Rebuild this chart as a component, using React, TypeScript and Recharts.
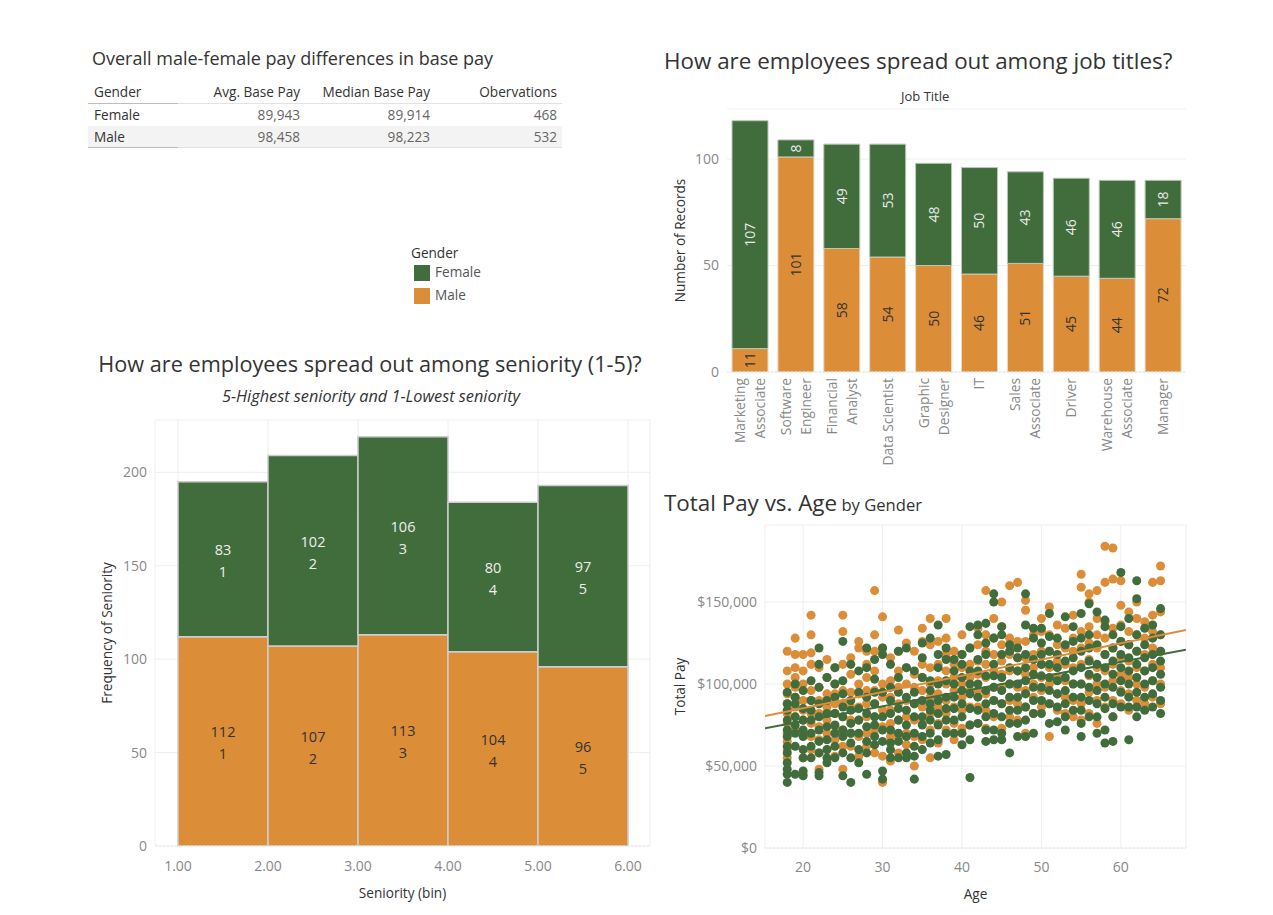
import React from "react"
import { Bar, BarChart, CartesianGrid, LabelList, Scatter, ScatterChart, XAxis, YAxis, ZAxis } from "recharts"

const GREEN = "#416c3c"
const ORANGE = "#dc8d38"
const FONT = "'Open Sans', sans-serif"

// table
const genders = ["Female", "Male"]
const avgBasePay = [89943, 98458]
const medianBasePay = [89914, 98223]
const observations = [468, 532]

// job titles
const jobTitles = ["Marketing\nAssociate", "Software\nEngineer", "Financial\nAnalyst", "Data Scientist", "Graphic\nDesigner", "IT", "Sales\nAssociate", "Driver", "Warehouse\nAssociate", "Manager"]
const jobMale = [11, 101, 58, 54, 50, 46, 51, 45, 44, 72]
const jobFemale = [107, 8, 49, 53, 48, 50, 43, 46, 46, 18]

// seniority
const seniorityBins = [1, 2, 3, 4, 5]
const seniorityMale = [112, 107, 113, 104, 96]
const seniorityFemale = [83, 102, 106, 80, 97]

// total pay ($k) by age
const femalePay: [number, number[]][] = [
  [18, [40, 45, 48, 52, 58, 62, 68, 72, 78, 84, 88, 95]],
  [19, [45, 62, 70, 75, 80, 88, 92, 100]],
  [20, [44, 47, 55, 60, 68, 72, 78, 85, 96]],
  [21, [55, 62, 70, 78, 84, 90, 102]],
  [22, [44, 46, 58, 65, 72, 80, 88, 98, 112, 122]],
  [23, [52, 55, 60, 66, 74, 82, 90, 104]],
  [24, [55, 62, 70, 75, 82, 92, 100, 110]],
  [25, [44, 58, 68, 72, 80, 86, 94, 102, 126]],
  [26, [40, 55, 64, 70, 76, 84, 90, 112]],
  [27, [52, 60, 70, 78, 85, 95, 108]],
  [28, [45, 58, 65, 74, 82, 92, 110, 122]],
  [29, [63, 68, 75, 80, 88, 95, 103, 115]],
  [30, [42, 47, 65, 72, 80, 95, 118, 122]],
  [31, [55, 60, 64, 72, 82, 90, 98, 112]],
  [32, [55, 65, 70, 78, 85, 95, 104, 120]],
  [33, [55, 58, 68, 75, 84, 92, 110, 122]],
  [34, [42, 56, 62, 70, 80, 88, 95, 108]],
  [35, [60, 68, 75, 80, 90, 104, 116, 125]],
  [36, [64, 70, 78, 84, 88, 96, 102, 128]],
  [37, [56, 66, 75, 82, 90, 100, 110, 118, 136]],
  [38, [57, 70, 78, 85, 92, 102, 115, 122]],
  [39, [70, 78, 85, 92, 100, 108, 115]],
  [40, [63, 70, 80, 88, 96, 104, 112, 118]],
  [41, [43, 66, 75, 85, 94, 100, 108, 122, 135]],
  [42, [76, 84, 92, 100, 108, 115, 130, 136]],
  [43, [65, 72, 80, 88, 96, 105, 118, 125, 137]],
  [44, [66, 72, 82, 90, 98, 105, 112, 128, 150, 155]],
  [45, [66, 70, 80, 88, 96, 104, 118, 130, 135]],
  [46, [58, 76, 84, 92, 100, 110, 120, 124]],
  [47, [68, 76, 84, 92, 100, 108, 116, 122]],
  [48, [68, 78, 86, 94, 102, 110, 118, 136, 155]],
  [49, [70, 82, 90, 98, 106, 115, 128, 134]],
  [50, [82, 90, 98, 105, 112, 118, 125, 134]],
  [51, [76, 88, 96, 104, 112, 120, 129, 143]],
  [52, [77, 86, 94, 102, 110, 118, 128]],
  [53, [72, 80, 88, 96, 104, 114, 124, 141]],
  [54, [84, 92, 100, 108, 116, 126, 135]],
  [55, [68, 76, 84, 92, 100, 110, 120, 128, 143]],
  [56, [80, 90, 98, 106, 114, 122, 130, 149]],
  [57, [70, 80, 88, 96, 104, 112, 124, 144]],
  [58, [64, 72, 85, 92, 100, 110, 118, 135, 139]],
  [59, [65, 80, 88, 98, 106, 114, 122, 130]],
  [60, [86, 95, 102, 110, 118, 126, 135, 168]],
  [61, [66, 86, 92, 100, 108, 116, 124, 140]],
  [62, [80, 86, 95, 104, 112, 120, 130, 152, 163]],
  [63, [84, 92, 100, 108, 116, 124, 134]],
  [64, [86, 94, 102, 110, 118, 128, 136]],
  [65, [82, 90, 98, 106, 114, 120, 130, 146]],
]

const malePay: [number, number[]][] = [
  [18, [55, 60, 65, 70, 76, 82, 88, 94, 100, 108, 120]],
  [19, [72, 80, 86, 92, 98, 104, 110, 118, 128]],
  [20, [45, 55, 70, 78, 84, 90, 100, 108, 118]],
  [21, [60, 68, 76, 82, 90, 96, 112, 119, 130, 142]],
  [22, [48, 58, 66, 74, 82, 90, 98, 110]],
  [23, [60, 70, 78, 86, 94, 104, 115]],
  [24, [56, 66, 74, 82, 88, 94, 100, 110]],
  [25, [48, 62, 72, 80, 88, 96, 112, 132, 142]],
  [26, [62, 70, 78, 86, 95, 106, 116]],
  [27, [56, 68, 78, 86, 94, 100, 122, 126]],
  [28, [62, 70, 80, 88, 96, 104, 112, 120]],
  [29, [58, 72, 80, 88, 96, 108, 120, 130, 157]],
  [30, [40, 56, 74, 84, 92, 100, 122, 141]],
  [31, [53, 68, 76, 84, 92, 102, 116]],
  [32, [58, 68, 78, 88, 98, 108, 120, 133]],
  [33, [63, 70, 80, 90, 100, 110, 125]],
  [34, [50, 68, 78, 88, 98, 106, 120]],
  [35, [66, 76, 86, 96, 104, 112, 126, 134]],
  [36, [55, 72, 82, 92, 100, 110, 124, 140]],
  [37, [64, 76, 86, 94, 102, 112, 126]],
  [38, [72, 82, 90, 100, 108, 118, 128, 140]],
  [39, [66, 76, 86, 96, 104, 112, 120]],
  [40, [73, 84, 92, 100, 110, 118, 130]],
  [41, [75, 86, 96, 104, 112, 122]],
  [42, [76, 86, 96, 106, 114, 124, 134]],
  [43, [73, 84, 94, 104, 112, 120, 130, 157]],
  [44, [80, 90, 98, 108, 118, 128, 140]],
  [45, [73, 88, 98, 106, 114, 124, 135, 150]],
  [46, [80, 90, 100, 108, 118, 128, 160]],
  [47, [78, 88, 98, 108, 116, 126, 162]],
  [48, [70, 86, 96, 106, 116, 126, 145, 151]],
  [49, [82, 92, 100, 110, 118, 130]],
  [50, [86, 96, 104, 112, 120, 132, 140]],
  [51, [68, 88, 100, 110, 120, 130, 147]],
  [52, [84, 94, 104, 114, 124, 136]],
  [53, [82, 92, 102, 112, 122, 134]],
  [54, [80, 90, 100, 110, 120, 128, 142]],
  [55, [78, 88, 100, 112, 122, 132, 159, 167]],
  [56, [82, 95, 105, 115, 125, 135, 150, 155]],
  [57, [76, 90, 100, 110, 122, 130, 140, 157]],
  [58, [86, 98, 108, 118, 128, 138, 162, 184]],
  [59, [80, 90, 102, 112, 122, 134, 164, 183]],
  [60, [88, 96, 106, 116, 126, 136, 148, 163]],
  [61, [84, 94, 104, 114, 124, 132, 144]],
  [62, [90, 100, 110, 120, 130, 140, 150]],
  [63, [88, 98, 108, 118, 128, 138]],
  [64, [92, 102, 112, 122, 132, 142, 162]],
  [65, [88, 100, 110, 120, 130, 144, 163, 172]],
]

// trend line end points (age, $)
const maleTrend = [{ age: 15.2, pay: 80500 }, { age: 68.2, pay: 133000 }]
const femaleTrend = [{ age: 15.2, pay: 73000 }, { age: 68.2, pay: 121000 }]

const toPoints = (rows: [number, number[]][]) => rows.flatMap(([age, pays]) => pays.map((p) => ({ age, pay: p * 1000 })))
const fmtMoney = (v: number) => "$" + v.toLocaleString("en-US")

function Txt({ left, top, size, children, style }: { left: number; top: number; size: number; children: React.ReactNode; style?: React.CSSProperties }) {
  return <div style={{ position: "absolute", left, top, fontSize: size, lineHeight: 1.2, whiteSpace: "nowrap", ...style }}>{children}</div>
}

function PayTable() {
  const cell = (right: number): React.CSSProperties => ({ position: "absolute", right, top: 0, color: "#666" })
  const row = (top: number, h: number, bg?: string): React.CSSProperties => ({ position: "absolute", left: 88, top, width: 474, height: h, lineHeight: h + "px", fontSize: 13.6, background: bg })
  const rule = (top: number) => (
    <>
      <div style={{ position: "absolute", left: 88, top, width: 474, height: 1, background: "#e2e2e2" }} />
      <div style={{ position: "absolute", left: 88, top, width: 90, height: 1, background: "#bdbdbd" }} />
    </>
  )
  return (
    <>
      <Txt left={92} top={48} size={18}>Overall male-female pay differences in base pay</Txt>
      <div style={row(81, 22)}>
        <span style={{ position: "absolute", left: 6 }}>Gender</span>
        <span style={{ position: "absolute", right: 262 }}>Avg. Base Pay</span>
        <span style={{ position: "absolute", right: 132 }}>Median Base Pay</span>
        <span style={{ position: "absolute", right: 5 }}>Obervations</span>
      </div>
      {genders.map((g, i) => (
        <div key={g} style={row(104 + i * 22, 21, i === 1 ? "#f3f3f3" : undefined)}>
          <span style={{ position: "absolute", left: 6 }}>{g}</span>
          <span style={cell(262)}>{avgBasePay[i].toLocaleString("en-US")}</span>
          <span style={cell(132)}>{medianBasePay[i].toLocaleString("en-US")}</span>
          <span style={cell(5)}>{observations[i]}</span>
        </div>
      ))}
      {rule(103)}
      {rule(147)}
    </>
  )
}

function GenderLegend() {
  return (
    <>
      <Txt left={411} top={245} size={13.6}>Gender</Txt>
      {genders.map((g, i) => (
        <React.Fragment key={g}>
          <div style={{ position: "absolute", left: 414, top: 265 + i * 23, width: 16, height: 16, background: i === 0 ? GREEN : ORANGE }} />
          <Txt left={435} top={264 + i * 23} size={13.6} style={{ color: "#555" }}>{g}</Txt>
        </React.Fragment>
      ))}
    </>
  )
}

function JobTick({ x, y, payload }: any) {
  const lines = String(payload.value).split("\n")
  return (
    <g transform={`translate(${x},${y})`}>
      <text transform="rotate(-90)" textAnchor="end" fill="#888" fontSize={13.8} fontFamily={FONT}>
        {lines.map((l, i) => <tspan key={i} x={2} y={(i - (lines.length - 1) / 2) * 20 + 5}>{l}</tspan>)}
      </text>
    </g>
  )
}

function JobChart() {
  const data = jobTitles.map((t, i) => ({ title: t, male: jobMale[i], female: jobFemale[i] }))
  return (
    <>
      <Txt left={664} top={48} size={22.4}>How are employees spread out among job titles?</Txt>
      <Txt left={901} top={89} size={13}>Job Title</Txt>
      <div style={{ position: "absolute", left: 660, top: 100 }}>
        <BarChart width={540} height={380} data={data} margin={{ top: 9, right: 14, bottom: 0, left: 0 }}>
          <CartesianGrid vertical={false} stroke="#efefef" />
          <XAxis dataKey="title" height={108} interval={0} tickLine={false} axisLine={{ stroke: "#e4e4e4", strokeDasharray: "2 2" }} tick={(p: any) => <JobTick {...p} />} />
          <YAxis width={67} domain={[0, 123.5]} allowDataOverflow ticks={[0, 50, 100]} axisLine={false} tickLine={false} tick={{ fill: "#888", fontSize: 14 }}
            label={{ value: "Number of Records", angle: -90, position: "insideLeft", offset: 20, style: { textAnchor: "middle", fill: "#333", fontSize: 13.6 } }} />
          <Bar dataKey="male" stackId="a" fill={ORANGE} barSize={36} stroke="#ecd9c4" strokeWidth={1} isAnimationActive={false}>
            <LabelList dataKey="male" position="center" angle={-90} fill="#333" fontSize={14} />
          </Bar>
          <Bar dataKey="female" stackId="a" fill={GREEN} barSize={36} stroke="#b9c8b6" strokeWidth={1} isAnimationActive={false}>
            <LabelList dataKey="female" position="center" angle={-90} fill="#eaeaea" fontSize={14} />
          </Bar>
        </BarChart>
      </div>
    </>
  )
}

const binLabel = (color: string) => (p: any) => {
  const vb = p.viewBox ?? p
  const cx = vb.x + vb.width / 2
  const cy = vb.y + vb.height / 2
  return (
    <text x={cx} y={cy} textAnchor="middle" fill={color} fontSize={14.5} fontFamily={FONT}>
      <tspan x={cx} dy={-4}>{p.value}</tspan>
      <tspan x={cx} dy={22}>{seniorityBins[p.index]}</tspan>
    </text>
  )
}

function SeniorityChart() {
  const data = seniorityBins.map((b, i) => ({ bin: b, male: seniorityMale[i], female: seniorityFemale[i] }))
  return (
    <>
      <Txt left={0} top={351} size={21.7} style={{ width: 740, textAlign: "center" }}>How are employees spread out among seniority (1-5)?</Txt>
      <Txt left={0} top={387} size={16.3} style={{ width: 742, textAlign: "center", fontStyle: "italic" }}>5-Highest seniority and 1-Lowest seniority</Txt>
      <div style={{ position: "absolute", left: 95, top: 412 }}>
        <BarChart width={565} height={498} data={data} barCategoryGap={0} margin={{ top: 8, right: 10, bottom: 0, left: 0 }}>
          <CartesianGrid xAxisId="num" stroke="#eeeeee" />
          <XAxis xAxisId="cat" dataKey="bin" hide height={0} padding={{ left: 23, right: 22 }} />
          <XAxis xAxisId="num" dataKey="bin" type="number" domain={[1, 6]} ticks={[1, 2, 3, 4, 5, 6]} allowDataOverflow padding={{ left: 23, right: 22 }} height={64}
            tickFormatter={(v: number) => v.toFixed(2)} tickLine={false} tickMargin={9} axisLine={{ stroke: "#e4e4e4", strokeDasharray: "2 2" }} tick={{ fill: "#888", fontSize: 14 }}
            label={{ value: "Seniority (bin)", position: "insideBottom", offset: 12, fill: "#333", fontSize: 13.6 }} />
          <YAxis width={60} domain={[0, 228]} allowDataOverflow ticks={[0, 50, 100, 150, 200]} axisLine={false} tickLine={false} tick={{ fill: "#888", fontSize: 14 }}
            label={{ value: "Frequency of Seniority", angle: -90, position: "insideLeft", offset: 12, style: { textAnchor: "middle", fill: "#333", fontSize: 13.6 } }} />
          <Bar xAxisId="cat" dataKey="male" stackId="s" fill={ORANGE} stroke="#cdcdcd" strokeWidth={1.5} isAnimationActive={false}>
            <LabelList dataKey="male" content={binLabel("#333")} />
          </Bar>
          <Bar xAxisId="cat" dataKey="female" stackId="s" fill={GREEN} stroke="#cdcdcd" strokeWidth={1.5} isAnimationActive={false}>
            <LabelList dataKey="female" content={binLabel("#eeeeee")} />
          </Bar>
        </BarChart>
      </div>
    </>
  )
}

function PayAgeChart() {
  const malePoints = toPoints(malePay)
  const femalePoints = toPoints(femalePay)
  return (
    <>
      <Txt left={664} top={490} size={22.4}>Total Pay vs. Age<span style={{ fontSize: 16.6 }}> by Gender</span></Txt>
      <div style={{ position: "absolute", left: 660, top: 520 }}>
        <ScatterChart width={540} height={390} margin={{ top: 5, right: 14, bottom: 0, left: 0 }}>
          <CartesianGrid stroke="#eeeeee" />
          <XAxis type="number" dataKey="age" domain={[15.2, 68.2]} allowDataOverflow ticks={[20, 30, 40, 50, 60]} height={62} tickLine={false} tickMargin={8}
            axisLine={{ stroke: "#e4e4e4", strokeDasharray: "2 2" }} tick={{ fill: "#888", fontSize: 14 }}
            label={{ value: "Age", position: "insideBottom", offset: 11, fill: "#333", fontSize: 13.6 }} />
          <YAxis type="number" dataKey="pay" width={105} domain={[0, 197000]} allowDataOverflow ticks={[0, 50000, 100000, 150000]} tickFormatter={fmtMoney}
            axisLine={false} tickLine={false} tick={{ fill: "#888", fontSize: 14 }}
            label={{ value: "Total Pay", angle: -90, position: "insideLeft", offset: 20, style: { textAnchor: "middle", fill: "#333", fontSize: 13.6 } }} />
          <ZAxis range={[40, 40]} />
          <Scatter name="Male" data={malePoints} fill={ORANGE} isAnimationActive={false} />
          <Scatter name="Female" data={femalePoints} fill={GREEN} isAnimationActive={false} />
          <Scatter data={maleTrend} line={{ stroke: ORANGE, strokeWidth: 2 }} shape={() => <g />} isAnimationActive={false} />
          <Scatter data={femaleTrend} line={{ stroke: GREEN, strokeWidth: 2 }} shape={() => <g />} isAnimationActive={false} />
        </ScatterChart>
      </div>
    </>
  )
}

export default function App() {
  return (
    <div style={{ position: "absolute", left: 0, top: 0, width: 1273, height: 915, background: "#fff", fontFamily: FONT, color: "#333" }}>
      <PayTable />
      <GenderLegend />
      <JobChart />
      <SeniorityChart />
      <PayAgeChart />
    </div>
  )
}
